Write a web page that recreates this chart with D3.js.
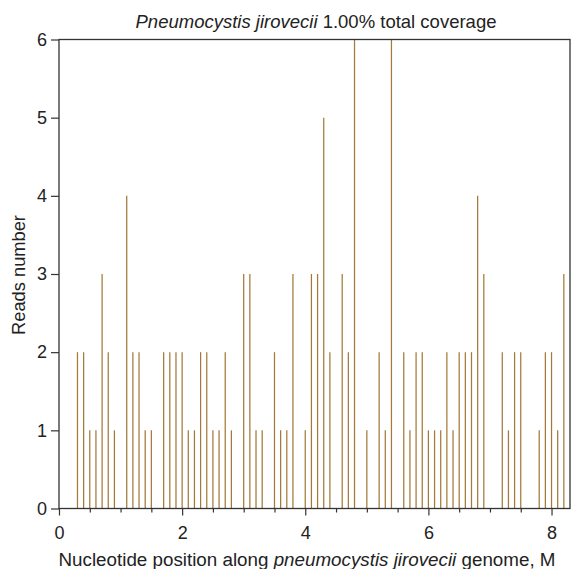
<!DOCTYPE html>
<html><head><meta charset="utf-8">
<script src="https://cdn.jsdelivr.net/npm/d3@7"></script>
<style>body{margin:0;background:#fff}svg{display:block}text{font-family:"Liberation Sans",Arial,Helvetica,sans-serif;fill:#222}</style>
</head><body>
<script>
const positions = [0.3,0.4,0.5,0.6,0.7,0.8,0.9,1.1,1.2,1.3,1.4,1.5,1.7,1.8,1.9,2.0,2.1,2.2,2.3,2.4,2.5,2.6,2.7,2.8,3.0,3.1,3.2,3.3,3.5,3.6,3.7,3.8,4.0,4.1,4.2,4.3,4.4,4.6,4.7,4.8,5.0,5.2,5.3,5.4,5.6,5.7,5.8,5.9,6.0,6.1,6.2,6.3,6.4,6.5,6.6,6.7,6.8,6.9,7.2,7.3,7.4,7.5,7.8,7.9,8.0,8.1,8.2];
const reads = [2,2,1,1,3,2,1,4,2,2,1,1,2,2,2,2,1,1,2,2,1,1,2,1,3,3,1,1,2,1,1,3,1,3,3,5,2,3,2,6,1,2,1,6,2,1,2,2,1,1,1,2,1,2,2,2,4,3,2,1,2,2,1,2,2,1,3];
const xMajorTicks = [0,2,4,6,8];
const xMinorTicks = [0.5,1,1.5,2.5,3,3.5,4.5,5,5.5,6.5,7,7.5];
const yTicks = [0,1,2,3,4,5,6];

const W = 571, H = 569;
const mLeft = 59, mRight = 570, mTop = 39.5, mBottom = 508.5;
const svg = d3.select("body").append("svg").attr("width", W).attr("height", H);
const x = d3.scaleLinear().domain([0, 8.3]).range([mLeft, mRight]);
const y = d3.scaleLinear().domain([0, 6]).range([mBottom, mTop]);

svg.append("g").selectAll("line").data(positions).join("line")
  .attr("x1", d => x(d)).attr("x2", d => x(d))
  .attr("y1", y(0)).attr("y2", (d, i) => y(reads[i]))
  .attr("stroke", "#a47a3a").attr("stroke-width", 1.25);

const axisColor = "#333";
svg.append("rect").attr("x", mLeft).attr("y", mTop).attr("width", mRight - mLeft).attr("height", mBottom - mTop)
  .attr("fill", "none").attr("stroke", axisColor).attr("stroke-width", 1.3);

svg.append("g").attr("transform", `translate(0,${mBottom})`)
  .call(d3.axisBottom(x).tickValues(xMajorTicks).tickSize(7).tickSizeOuter(0).tickPadding(11).tickFormat(d3.format("d")));
svg.append("g").attr("transform", `translate(0,${mBottom})`)
  .call(d3.axisBottom(x).tickValues(xMinorTicks).tickSize(4).tickSizeOuter(0).tickFormat(""));
svg.append("g").attr("transform", `translate(${mLeft},0)`)
  .call(d3.axisLeft(y).tickValues(yTicks).tickSize(8).tickSizeOuter(0).tickPadding(4).tickFormat(d3.format("d")));
svg.selectAll(".domain").remove();
svg.selectAll(".tick line").attr("stroke", axisColor).attr("stroke-width", 1.2);
svg.selectAll(".tick text").attr("font-size", 18).attr("fill", "#222")
  .attr("font-family", '"Liberation Sans",Arial,Helvetica,sans-serif');

const title = svg.append("text").attr("x", 316).attr("y", 28).attr("text-anchor", "middle").attr("font-size", 18.5);
title.append("tspan").attr("font-style", "italic").text("Pneumocystis jirovecii");
title.append("tspan").text(" 1.00% total coverage");

const xl = svg.append("text").attr("x", (58 + 556) / 2).attr("y", 566).attr("text-anchor", "middle").attr("font-size", 18.8);
xl.append("tspan").text("Nucleotide position along ");
xl.append("tspan").attr("font-style", "italic").text("pneumocystis jirovecii");
xl.append("tspan").text(" genome, M");

svg.append("text").attr("transform", `translate(25,275) rotate(-90)`)
  .attr("text-anchor", "middle").attr("font-size", 18.3).text("Reads number");
</script>
</body></html>
